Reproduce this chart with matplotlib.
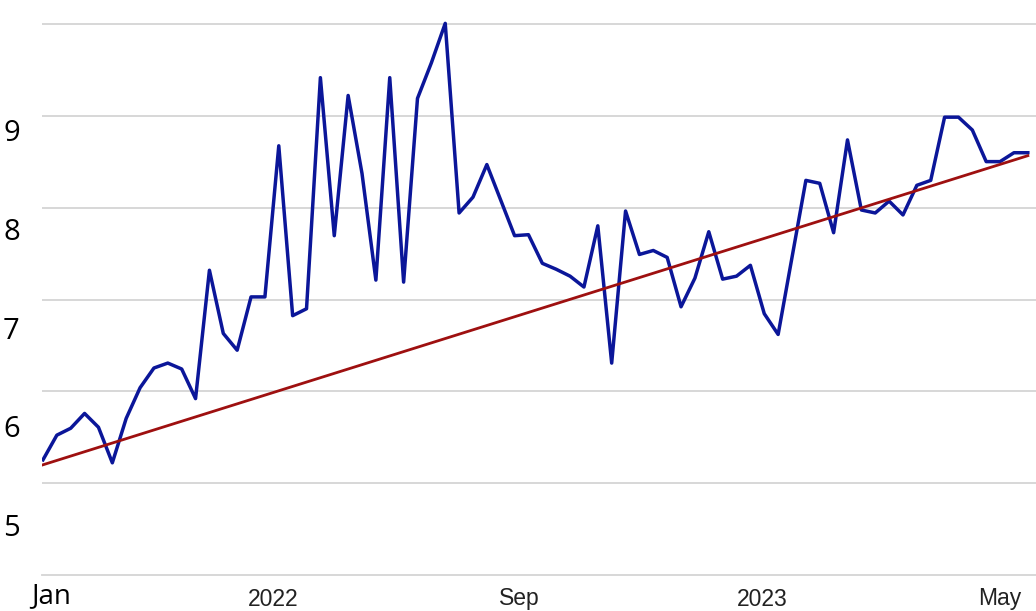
import matplotlib
matplotlib.use("Agg")
import matplotlib.pyplot as plt
import matplotlib.transforms as mtransforms

# weekly values, one per step along the x axis
values = [
    5.66, 5.91, 5.98, 6.13, 5.99, 5.63, 6.08, 6.39, 6.59, 6.64,
    6.58, 6.28, 7.58, 6.94, 6.77, 7.31, 7.31, 8.84, 7.12, 7.19,
    9.53, 7.93, 9.35, 8.56, 7.48, 9.53, 7.46, 9.32, 9.68, 10.08,
    8.16, 8.32, 8.65, 8.29, 7.93, 7.94, 7.65, 7.59, 7.52, 7.41,
    8.03, 6.64, 8.18, 7.74, 7.78, 7.71, 7.21, 7.50, 7.97, 7.49,
    7.52, 7.63, 7.14, 6.93, 7.71, 8.49, 8.46, 7.96, 8.90, 8.19,
    8.16, 8.28, 8.14, 8.44, 8.49, 9.13, 9.13, 9.00, 8.68, 8.68,
    8.77, 8.77,
]
steps = list(range(len(values)))

# straight trend line, end points
trend_x = [0, 71]
trend_y = [5.61, 8.74]

y_ticks = [5, 6, 7, 8, 9]
x_tick_pos = [0.58, 16.58, 34.32, 51.84, 69.0]
x_tick_labels = ["Jan", "2022", "Sep", "2023", "May"]

fig = plt.figure(figsize=(10.36, 6.11), dpi=100)
ax = fig.add_axes([42 / 1036, 36 / 611, 994 / 1036, 575 / 611])

ax.plot(steps, values, color="#0b1699", linewidth=2.5, zorder=3)
ax.plot(trend_x, trend_y, color="#9e1010", linewidth=2.0, zorder=4)

ax.set_xlim(-0.07, 71.59)
ax.set_ylim(4.494, 10.3165)

# gridlines in the reference do not line up with the value labels
ax.set_yticks(y_ticks)
ax.set_yticks([5.425, 6.357, 7.278, 8.210, 9.142, 10.073], minor=True)
ax.set_xticks(x_tick_pos[1:])
ax.set_xticklabels(x_tick_labels[1:])
ax.set_xticks([16.58, 34.32, 51.84, 69.0], minor=True)

ax.grid(False)
ax.grid(True, which="minor", axis="y", color="#d4d4d4", linewidth=1.3)
ax.grid(True, which="minor", axis="x", color="#dce9f4", linewidth=1.0)
ax.tick_params(which="both", length=0)
ax.tick_params(axis="y", pad=16, labelsize=21)
ax.tick_params(axis="x", pad=9)

for lab in ax.get_yticklabels():
    lab.set_fontfamily("Open Sans")
for lab in ax.get_xticklabels():
    lab.set_fontfamily("Liberation Sans")
    lab.set_fontsize(16.5)
    lab.set_color("#222222")

# first label is set in a bigger, different face in the reference
jan_trans = mtransforms.blended_transform_factory(ax.transData, ax.transAxes)
ax.text(x_tick_pos[0], -0.013, x_tick_labels[0], transform=jan_trans,
        ha="center", va="top", fontsize=20, family="Open Sans", color="black")

for side in ["top", "right", "left"]:
    ax.spines[side].set_visible(False)
ax.spines["bottom"].set_color("#d4d4d4")
ax.spines["bottom"].set_linewidth(1.3)

fig.savefig("out.png", dpi=100)
